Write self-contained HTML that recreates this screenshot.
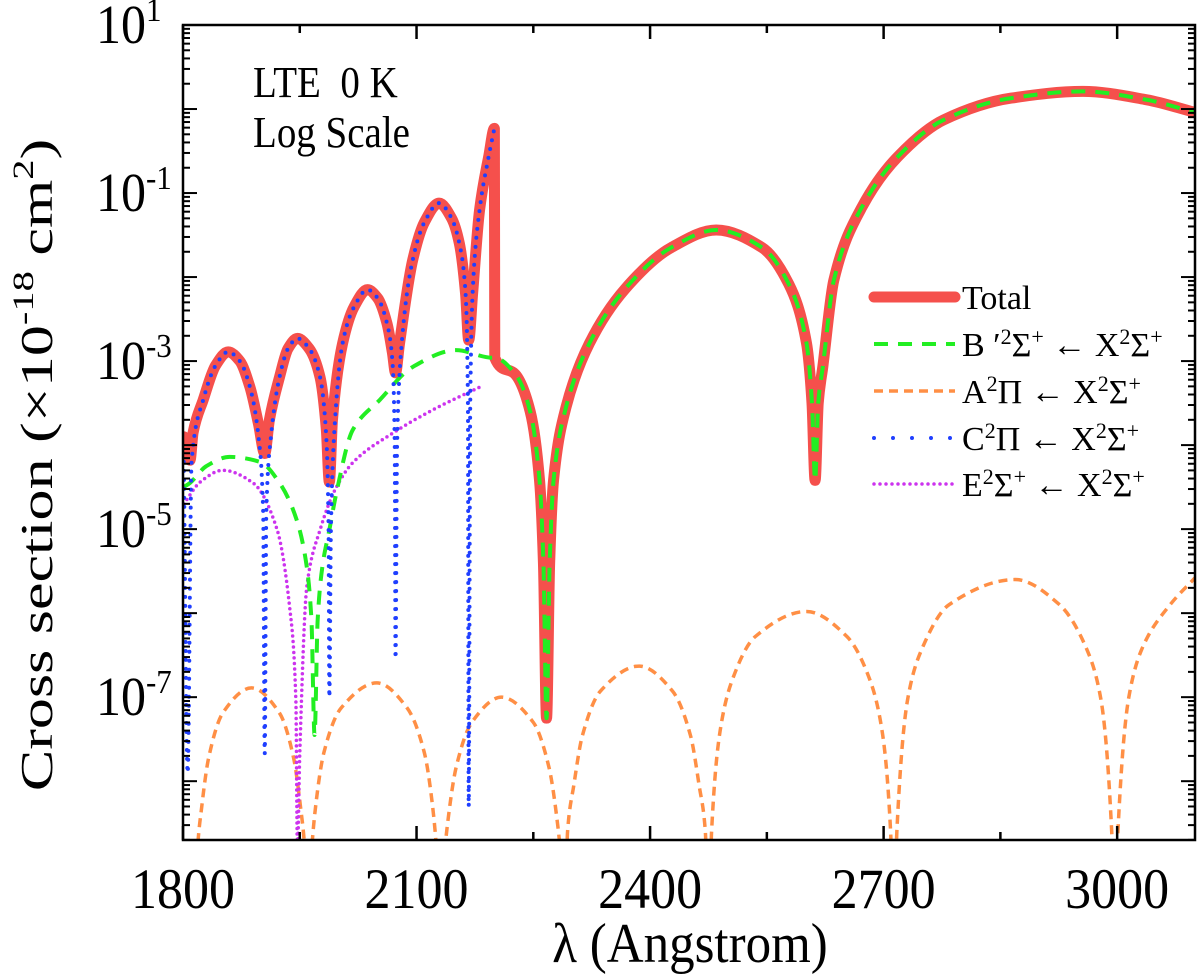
<!DOCTYPE html>
<html><head><meta charset="utf-8"><style>
html,body{margin:0;padding:0;background:#fff;}
svg{display:block;font-family:"Liberation Serif",serif;}
</style></head><body>
<svg id="chart" width="1200" height="980" viewBox="0 0 1200 980" xmlns="http://www.w3.org/2000/svg">
<defs><clipPath id="plotclip"><rect x="183" y="25" width="1012" height="815"/></clipPath></defs>
<g id="series" clip-path="url(#plotclip)"></g>
<g id="axes"></g>
<g>
<text transform="translate(253,97) scale(1,1.15)" font-size="39" xml:space="preserve">LTE  0 K</text>
<text transform="translate(253,147) scale(1,1.15)" font-size="39">Log Scale</text>
</g>
<g id="legend"></g>
<text transform="translate(690,962) scale(1,1.1)" font-size="51" text-anchor="middle">λ (Angstrom)</text>
<text transform="translate(52,465) rotate(-90) scale(1.35,1)" font-size="46" text-anchor="middle">Cross section (×10<tspan font-size="30" dy="-19">-18</tspan><tspan dy="19"> cm</tspan><tspan font-size="30" dy="-19">2</tspan><tspan dy="19">)</tspan></text>
</svg>
<script>
// ---- data (wavelength in Angstrom, log10 of cross section) ----
const xTicks = [1800, 2100, 2400, 2700, 3000];
const yTickExps = [1, -1, -3, -5, -7];
const totalData = [[1801,-3.9],[1806,-4.1],[1809,-4.18],[1813,-3.85],[1826,-3.46],[1842,-3.05],[1858,-2.89],[1873,-3.0],[1886,-3.31],[1897,-3.75],[1905,-4.10],[1911,-3.7],[1924,-3.19],[1935,-2.85],[1947,-2.73],[1962,-2.85],[1976,-3.19],[1984,-3.8],[1988,-4.44],[1992,-3.7],[2005,-2.79],[2020,-2.35],[2037,-2.15],[2050,-2.25],[2062,-2.55],[2069,-2.9],[2073,-3.14],[2078,-2.8],[2095,-1.80],[2110,-1.35],[2129,-1.12],[2145,-1.3],[2155,-1.60],[2163,-2.2],[2167,-2.75],[2172,-2.2],[2181,-1.20],[2193,-0.55],[2200,-0.23],[2200.5,-2.96]];
const sharedTail = [[2228,-3.17],[2246,-3.60],[2258,-4.42],[2263,-5.4],[2267,-7.25],[2271,-5.4],[2276,-4.42],[2292,-3.55],[2322,-2.79],[2368,-2.14],[2427,-1.65],[2485,-1.44],[2544,-1.65],[2578,-2.08],[2601,-2.79],[2608,-3.5],[2612,-4.42],[2616,-3.5],[2622,-3.06],[2636,-2.04],[2672,-1.17],[2718,-0.57],[2777,-0.13],[2864,0.13],[2956,0.21],[3038,0.11],[3100,-0.04]];
const bData = [[1801,-4.5],[1809,-4.45],[1830,-4.25],[1860,-4.14],[1899,-4.20],[1924,-4.45],[1946,-4.89],[1959,-5.45],[1965,-6.08],[1969,-7.45],[1973,-6.08],[1979,-5.45],[1988,-5.01],[1997,-4.57],[2018,-3.82],[2053,-3.46],[2095,-3.07],[2151,-2.87],[2197,-2.96]];
const aData = [[1806,-9.5],[1815,-10],[1818,-8.9],[1824,-8.31],[1833,-7.72],[1851,-7.19],[1888,-6.89],[1924,-7.19],[1942,-7.72],[1951,-8.31],[1957,-8.9],[1960,-10],[1964,-9],[1971,-8.25],[1981,-7.66],[2003,-7.13],[2049,-6.83],[2088,-7.13],[2110,-7.66],[2120,-8.25],[2127,-9],[2131,-10],[2135,-9],[2141,-8.42],[2151,-7.83],[2171,-7.3],[2209,-7.0],[2250,-7.3],[2270,-7.83],[2280,-8.42],[2286,-9],[2290,-10],[2294,-8.6],[2302,-8.05],[2313,-7.46],[2336,-6.93],[2386,-6.63],[2429,-6.93],[2452,-7.46],[2463,-8.05],[2471,-8.6],[2475,-10],[2479,-8.6],[2490,-7.4],[2505,-6.81],[2535,-6.28],[2601,-5.98],[2653,-6.28],[2683,-6.81],[2698,-7.4],[2709,-8.6],[2713,-10],[2717,-8.6],[2731,-7.02],[2749,-6.43],[2784,-5.9],[2869,-5.6],[2926,-5.9],[2961,-6.43],[2979,-7.02],[2993,-8.6],[2997,-10],[3001,-8.6],[3015,-7.0],[3033,-6.4],[3068,-5.9],[3100,-5.58]];
const cData = [[1801,-4.2],[1806,-7.9],[1811,-4.2],[1826,-3.46],[1842,-3.05],[1858,-2.89],[1873,-3.0],[1886,-3.31],[1897,-3.9],[1903,-4.8],[1905,-7.67],[1907,-4.8],[1913,-3.9],[1924,-3.19],[1935,-2.85],[1947,-2.73],[1962,-2.85],[1976,-3.19],[1984,-3.9],[1987,-5],[1988,-7.0],[1990,-5],[1994,-3.9],[2005,-2.79],[2020,-2.35],[2037,-2.15],[2050,-2.25],[2062,-2.55],[2069,-3.0],[2072,-4],[2073,-6.54],[2075,-4],[2080,-2.9],[2095,-1.80],[2110,-1.35],[2129,-1.12],[2145,-1.3],[2155,-1.60],[2163,-2.2],[2166,-3.5],[2167,-8.3],[2169,-3.5],[2172,-2.2],[2181,-1.20],[2193,-0.55],[2200,-0.23]];
const eData = [[1801,-4.7],[1822,-4.44],[1851,-4.30],[1890,-4.45],[1921,-5.01],[1937,-5.93],[1945,-7.04],[1947,-8.82],[1950,-7.67],[1959,-5.69],[1976,-5.01],[1997,-4.50],[2018,-4.21],[2069,-3.86],[2121,-3.58],[2181,-3.31]];

const NS = "http://www.w3.org/2000/svg";
const PL=183, PR=1195, PT=25, PB=840, XMIN=1800, XMAX=3100, YMIN=-8.7, YMAX=1;
function xs(v){return PL+(v-XMIN)/(XMAX-XMIN)*(PR-PL);}
function ys(v){return PB-(v-YMIN)/(YMAX-YMIN)*(PB-PT);}
function mk(tag, attrs, parent){const e=document.createElementNS(NS,tag);for(const k in attrs)e.setAttribute(k,attrs[k]);parent.appendChild(e);return e;}

function monoPath(data){
  const p=data.map(d=>[xs(d[0]),ys(d[1])]);const n=p.length;
  const dx=[],s=[];for(let i=0;i<n-1;i++){dx.push(Math.max(p[i+1][0]-p[i][0],0.01));s.push((p[i+1][1]-p[i][1])/dx[i]);}
  const m=[s[0]];for(let i=1;i<n-1;i++){m.push(s[i-1]*s[i]<=0?0:(dx[i-1]+dx[i])*3/((2*dx[i]+dx[i-1])/s[i-1]+(dx[i]+2*dx[i-1])/s[i]));}
  m.push(s[n-2]);
  let d="M"+p[0][0].toFixed(2)+","+p[0][1].toFixed(2);
  for(let i=0;i<n-1;i++){const h=dx[i]/3;d+=" C"+(p[i][0]+h).toFixed(2)+","+(p[i][1]+m[i]*h).toFixed(2)+" "+(p[i+1][0]-h).toFixed(2)+","+(p[i+1][1]-m[i+1]*h).toFixed(2)+" "+p[i+1][0].toFixed(2)+","+p[i+1][1].toFixed(2);}
  return d;
}
const sg=document.getElementById("series");
let el;
el=mk("path",{d:monoPath(aData),fill:"none",stroke:"#ff8f45","stroke-width":3.5,"stroke-dasharray":"9 6"},sg);


el=mk("path",{d:monoPath(eData),fill:"none",stroke:"#cc33ee","stroke-width":3.5,"stroke-dasharray":"0 5.5","stroke-linecap":"round"},sg);


el=mk("path",{d:monoPath(totalData.concat(sharedTail)),fill:"none",stroke:"#f5504c","stroke-width":11,"stroke-linejoin":"round","stroke-linecap":"round"},sg);


el=mk("path",{d:monoPath(bData.concat([[2200,-2.96]]).concat(sharedTail)),fill:"none",stroke:"#22ee22","stroke-width":4,"stroke-dasharray":"14 10"},sg);


el=mk("path",{d:monoPath(cData),fill:"none",stroke:"#1f3fff","stroke-width":4,"stroke-dasharray":"0 9","stroke-linecap":"round"},sg);



// axes
const ax=document.getElementById("axes");
el=mk("rect",{x:PL,y:PT,width:PR-PL,height:PB-PT,fill:"none",stroke:"#000","stroke-width":2.5},ax);


for(let v=1800;v<=3100;v+=150){
  const major=(v-1800)%300===0, L=major?14:8, x=xs(v);
  mk("line",{x1:x,y1:PB,x2:x,y2:PB-L,stroke:"#000","stroke-width":2.5},ax);
  mk("line",{x1:x,y1:PT,x2:x,y2:PT+L,stroke:"#000","stroke-width":2.5},ax);
}
xTicks.forEach(v=>{
  const t=mk("text",{transform:"translate("+xs(v)+",908) scale(1,1.1)","font-size":52,"text-anchor":"middle"},ax);
  t.textContent=v;
  
  
});
for(let e=-9;e<=1;e++){
  for(let k=1;k<=9;k++){
    const lv=e+Math.log10(k); if(lv<YMIN||lv>YMAX)continue;
    const y=ys(lv), L=k===1?14:7;
    mk("line",{x1:PL,y1:y,x2:PL+L,y2:y,stroke:"#000","stroke-width":2},ax);
    mk("line",{x1:PR,y1:y,x2:PR-L,y2:y,stroke:"#000","stroke-width":2},ax);
  }
}
yTickExps.forEach(e=>{
  const t=mk("text",{transform:"translate(96,"+(ys(e)+18)+") scale(1,1.1)","font-size":50},ax);
  
  
  t.appendChild(document.createTextNode("10"));
  const s=mk("tspan",{"font-size":31,dy:-20},t); s.textContent=String(e);
});

// legend
const lg=document.getElementById("legend");
const legendRows=[
 {y:297,name:"legend-total",stroke:"#f5504c",w:11,dash:null,cap:"round",label:["Total"]},
 {y:344,name:"legend-b2sigma",stroke:"#22ee22",w:4,dash:"14 10",cap:"butt",label:["B ′","2","Σ","+"," ← X","2","Σ","+"]},
 {y:391,name:"legend-a2pi",stroke:"#ff8f45",w:3.5,dash:"9 6",cap:"butt",label:["A","2","Π",""," ← X","2","Σ","+"]},
 {y:438,name:"legend-c2pi",stroke:"#1f3fff",w:4,dash:"0 19",cap:"round",label:["C","2","Π",""," ← X","2","Σ","+"]},
 {y:484,name:"legend-e2sigma",stroke:"#cc33ee",w:3.5,dash:"0 6",cap:"round",label:["E","2","Σ","+"," ← X","2","Σ","+"]}
];
legendRows.forEach(r=>{
  const g=mk("g",{},lg);
  
  
  const a={x1:874,y1:r.y,x2:955,y2:r.y,stroke:r.stroke,"stroke-width":r.w,"stroke-linecap":r.cap};
  if(r.dash)a["stroke-dasharray"]=r.dash;
  mk("line",a,g);
  const t=mk("text",{x:962,y:r.y+12,"font-size":34},g);
  r.label.forEach((s,i)=>{const sup=i%2===1;const sp=mk("tspan",{"font-size":sup?22:34,"baseline-shift":sup?"super":"baseline"},t);sp.textContent=s;});
});
</script>
</body></html>
